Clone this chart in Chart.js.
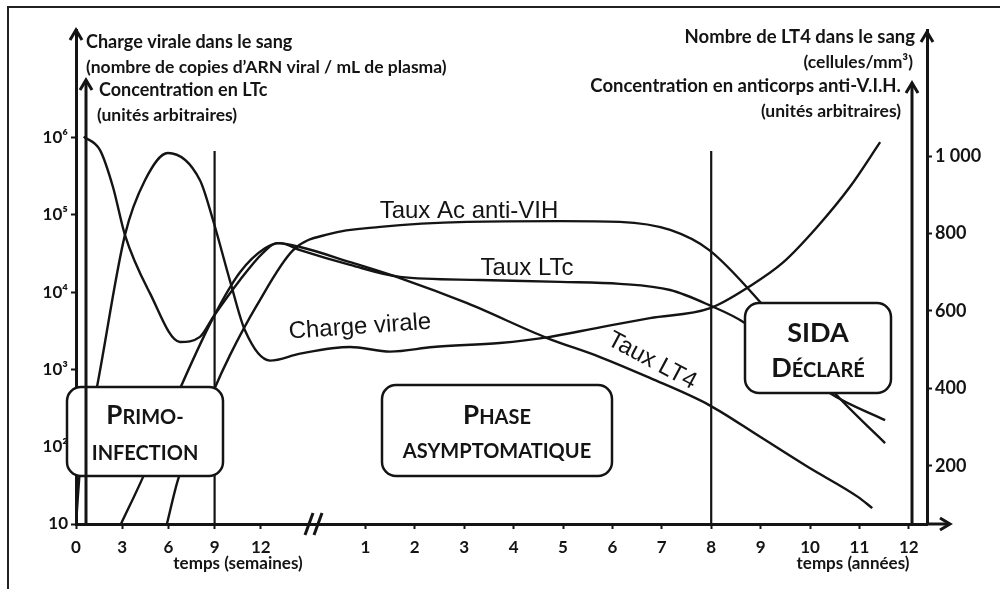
<!DOCTYPE html>
<html lang="fr">
<head>
  <meta charset="UTF-8">
  <title>Évolution de l'infection par le V.I.H.</title>
  <script src="https://cdn.jsdelivr.net/npm/chart.js@4.4.1/dist/chart.umd.min.js"></script>
  <style>
    html, body { margin: 0; padding: 0; background: #fff; }
    #wrap { position: relative; width: 1000px; height: 589px; }
  </style>
</head>
<body>
  <div id="wrap"><canvas id="hiv"></canvas></div>

  <script>
    // Axis ticks
    const weekTicks = [0, 3, 6, 9, 12];
    const yearTicks = [1, 2, 3, 4, 5, 6, 7, 8, 9, 10, 11, 12];
    const xTickLabels = weekTicks.concat(yearTicks).map(String);
    const logTicks = [10, 1e2, 1e3, 1e4, 1e5, 1e6];
    const logTickLabels = ['10', '10²', '10³', '10⁴', '10⁵', '10⁶'];
    const lt4Ticks = [200, 400, 600, 800, 1000];
    const lt4TickLabels = ['200', '400', '600', '800', '1 000'];

    // Series as [time, value]: first part in weeks, second part in years
    const viralWeeks = [[0, 10], [0.26, 50], [1.36, 590], [3.18, 5.5e4], [4.48, 2.8e5], [5.97, 6.3e5],
                        [8.05, 2.8e5], [8.9, 8.5e4], [10.0, 1.4e4], [10.97, 3.2e3], [12.6, 1.3e3], [14.55, 1.6e3]];
    const viralYears = [[0.69, 1.95e3], [1.5, 1.7e3], [2.37, 1.95e3], [3.72, 2.2e3], [4.68, 2.6e3], [5.75, 3.5e3],
                        [6.76, 4.6e3], [7.98, 6.2e3], [8.79, 1.2e4], [9.45, 2.4e4], [10.14, 6.9e4], [10.81, 2.3e5], [11.42, 8.7e5]];

    const lt4Weeks = [[0.5, 1050], [1.56, 1015], [2.4, 920], [3.18, 796], [4.8, 646], [6.75, 520], [8.05, 533],
                      [8.9, 584], [10.65, 680], [12.14, 750], [13.05, 775], [14.55, 765]];
    const lt4Years = [[0.69, 726], [1.7, 685], [3.06, 620], [4.68, 530], [5.75, 481], [6.76, 427], [7.96, 357],
                      [8.99, 275], [9.96, 197], [10.97, 120], [11.26, 91]];

    const ltcWeeks = [[2.92, 50], [4.35, 171], [6.43, 370], [8.9, 582], [10.65, 700], [12.27, 762], [13.25, 775], [14.55, 757]];
    const ltcYears = [[0.69, 719], [1.7, 688], [3.32, 680], [4.94, 675], [6.15, 670], [7.17, 654], [7.96, 615],
                      [8.68, 569], [10.4, 388], [11.52, 318]];

    const acWeeks = [[5.9, 50], [6.62, 164], [8.9, 391], [10.0, 486], [11.75, 615], [14.1, 757]];
    const acYears = [[0.28, 799], [1.3, 817], [3.06, 830], [4.94, 832], [6.15, 830], [7.17, 809], [7.96, 757],
                     [8.99, 623], [10.5, 388], [11.52, 259]];

    const phaseWeek = 9;   // end of primo-infection
    const phaseYear = 8;   // start of AIDS

    // x axis is in years; the weeks section is squeezed in before year 0
    const YEAR_PX = 49.4, WEEK_PX = 15.4, WEEKS_SPAN_PX = 240;
    const X_MIN = -WEEKS_SPAN_PX / YEAR_PX;
    const X_MAX = X_MIN + 851 / YEAR_PX;
    const wk = w => X_MIN + w * WEEK_PX / YEAR_PX;

    const toPoints = (weeks, years) =>
      weeks.map(([w, v]) => ({ x: wk(w), y: v })).concat(years.map(([t, v]) => ({ x: t, y: v })));

    const INK = '#141414';
    const lineStyle = {
      borderColor: INK, borderWidth: 2.4, pointRadius: 0, fill: false,
      cubicInterpolationMode: 'monotone'
    };

    function roundRect(ctx, x, y, w, h, r) {
      ctx.beginPath();
      ctx.moveTo(x + r, y);
      ctx.arcTo(x + w, y, x + w, y + h, r);
      ctx.arcTo(x + w, y + h, x, y + h, r);
      ctx.arcTo(x, y + h, x, y, r);
      ctx.arcTo(x, y, x + w, y, r);
      ctx.closePath();
    }

    // draws text made of [string, size] parts, centered, sharing one baseline
    function capsLine(ctx, parts, cx, baseline) {
      let total = 0;
      parts.forEach(([s, size]) => { ctx.font = `bold ${size}px Lato`; total += ctx.measureText(s).width; });
      let x = cx - total / 2;
      ctx.textAlign = 'left';
      ctx.textBaseline = 'alphabetic';
      parts.forEach(([s, size]) => {
        ctx.font = `bold ${size}px Lato`;
        ctx.fillText(s, x, baseline);
        x += ctx.measureText(s).width;
      });
    }

    function arrowUp(ctx, x, tip) {
      ctx.beginPath();
      ctx.moveTo(x - 6, tip + 10);
      ctx.lineTo(x, tip);
      ctx.lineTo(x + 6, tip + 10);
      ctx.stroke();
    }

    const boxes = [
      { x: 67, y: 387, w: 156, h: 89, lines: [[['P', 26], ['RIMO-', 20]], [['INFECTION', 20]]], base: [424, 460] },
      { x: 382, y: 385, w: 230, h: 91, lines: [[['P', 26], ['HASE', 20]], [['ASYMPTOMATIQUE', 20]]], base: [424, 458] },
      { x: 745, y: 303, w: 146, h: 90, lines: [[['SIDA', 27]], [['D', 27], ['ÉCLARÉ', 20]]], base: [342, 377] }
    ];

    const curveLabels = [
      { text: 'Taux Ac anti-VIH', x: 469, y: 211, rot: 0 },
      { text: 'Taux LTc', x: 527, y: 268, rot: 0 },
      { text: 'Charge virale', x: 360, y: 327, rot: -4 },
      { text: 'Taux LT4', x: 652, y: 361, rot: 28 }
    ];

    const titles = [
      ['Charge virale dans le sang', 86, 42, 18, 'left'],
      ['(nombre de copies d’ARN viral / mL de plasma)', 86, 67, 17.5, 'left'],
      ['Concentration en LTc', 99, 90, 18, 'left'],
      ['(unités arbitraires)', 97, 115, 17.5, 'left'],
      ['Nombre de LT4 dans le sang', 915, 37, 18.5, 'right'],
      ['(cellules/mm³)', 913, 62, 17.5, 'right'],
      ['Concentration en anticorps anti-V.I.H.', 901, 86, 18.5, 'right'],
      ['(unités arbitraires)', 901, 111, 17.5, 'right']
    ];

    const decor = {
      id: 'decor',
      beforeDraw(chart) {
        const ctx = chart.ctx;
        ctx.save();
        ctx.fillStyle = '#fff';
        ctx.fillRect(0, 0, chart.width, chart.height);
        ctx.restore();
      },
      beforeDatasetsDraw(chart) {
        const { ctx, scales } = chart;
        const bottom = chart.chartArea.bottom;
        const top = scales.yT.getPixelForValue(1013);
        ctx.save();
        ctx.strokeStyle = INK;
        ctx.lineWidth = 2.2;
        [wk(phaseWeek), phaseYear].forEach(v => {
          const x = scales.x.getPixelForValue(v);
          ctx.beginPath();
          ctx.moveTo(x, top);
          ctx.lineTo(x, bottom);
          ctx.stroke();
        });
        ctx.restore();
      },
      afterDatasetsDraw(chart) {
        const ctx = chart.ctx;
        ctx.save();
        // phase boxes
        boxes.forEach(b => {
          roundRect(ctx, b.x, b.y, b.w, b.h, 14);
          ctx.fillStyle = '#fff';
          ctx.fill();
          ctx.strokeStyle = INK;
          ctx.lineWidth = 2.5;
          ctx.stroke();
          ctx.fillStyle = INK;
          b.lines.forEach((parts, i) => capsLine(ctx, parts, b.x + b.w / 2, b.base[i]));
        });
        // curve names
        ctx.fillStyle = INK;
        ctx.font = '24px "Liberation Sans", Arial, sans-serif';
        ctx.textAlign = 'center';
        ctx.textBaseline = 'middle';
        curveLabels.forEach(l => {
          ctx.save();
          ctx.translate(l.x, l.y);
          ctx.rotate(l.rot * Math.PI / 180);
          ctx.fillText(l.text, 0, 0);
          ctx.restore();
        });
        ctx.restore();
      },
      afterDraw(chart) {
        const { ctx, chartArea } = chart;
        const L = chartArea.left, R = chartArea.right, B = chartArea.bottom, T = chartArea.top;
        ctx.save();
        ctx.strokeStyle = INK;
        ctx.fillStyle = INK;

        // inner axes
        ctx.lineWidth = 3;
        ctx.beginPath();
        ctx.moveTo(L + 10, B); ctx.lineTo(L + 10, 82);
        ctx.moveTo(R - 15, B); ctx.lineTo(R - 15, 85);
        ctx.stroke();
        // arrow heads
        arrowUp(ctx, L, T);
        arrowUp(ctx, L + 10, 80);
        arrowUp(ctx, R, T + 2);
        arrowUp(ctx, R - 15, 83);
        // x axis extension with arrow
        ctx.beginPath();
        ctx.moveTo(R, B); ctx.lineTo(948, B);
        ctx.stroke();
        ctx.beginPath();
        ctx.moveTo(940, B - 6); ctx.lineTo(950, B); ctx.lineTo(940, B + 6);
        ctx.stroke();

        // axis break
        [309, 318].forEach(x => {
          ctx.beginPath();
          ctx.moveTo(x - 4, B + 11);
          ctx.lineTo(x + 4, B - 11);
          ctx.stroke();
        });

        // axis titles
        ctx.textBaseline = 'middle';
        titles.forEach(([s, x, y, size, a]) => {
          ctx.font = `bold ${size}px Lato`;
          ctx.textAlign = a;
          ctx.fillText(s, x, y);
        });
        ctx.font = 'bold 17px Lato';
        ctx.textAlign = 'center';
        ctx.fillText('temps (semaines)', 238, 564);
        ctx.fillText('temps (années)', 853, 564);

        // frame
        ctx.lineWidth = 2;
        ctx.strokeStyle = '#222';
        ctx.beginPath();
        ctx.moveTo(8, chart.height); ctx.lineTo(8, 7); ctx.lineTo(chart.width, 7);
        ctx.stroke();
        ctx.restore();
      }
    };

    const tickFont = { family: 'Lato, "DejaVu Sans"', weight: 'bold', size: 17 };

    new Chart(document.getElementById('hiv'), {
      type: 'line',
      data: {
        datasets: [
          { label: 'Charge virale', data: toPoints(viralWeeks, viralYears), yAxisID: 'yV', ...lineStyle },
          { label: 'Taux LT4', data: toPoints(lt4Weeks, lt4Years), yAxisID: 'yT', ...lineStyle },
          { label: 'Taux LTc', data: toPoints(ltcWeeks, ltcYears), yAxisID: 'yT', ...lineStyle },
          { label: 'Taux Ac anti-VIH', data: toPoints(acWeeks, acYears), yAxisID: 'yT', ...lineStyle }
        ]
      },
      options: {
        responsive: true,
        maintainAspectRatio: false,
        animation: false,
        layout: { padding: { top: 30, left: 0, right: 0, bottom: 0 } },
        plugins: { legend: { display: false }, tooltip: { enabled: false } },
        scales: {
          x: {
            type: 'linear', min: X_MIN, max: X_MAX,
            afterBuildTicks: s => {
              s.ticks = weekTicks.map(w => ({ value: wk(w) })).concat(yearTicks.map(y => ({ value: y })));
            },
            afterFit: s => { s.height = 65; },
            ticks: { autoSkip: false, maxRotation: 0, padding: 8, color: INK, font: tickFont,
                     callback: (v, i) => xTickLabels[i] },
            grid: { drawOnChartArea: false, tickColor: INK, tickLength: 5, tickWidth: 2 },
            border: { display: true, color: INK, width: 3 }
          },
          yV: {
            type: 'logarithmic', position: 'left', min: 10, max: Math.pow(10, 1 + 494 / 77.3),
            afterBuildTicks: s => { s.ticks = logTicks.map(v => ({ value: v })); },
            afterFit: s => { s.width = 76; },
            ticks: { autoSkip: false, padding: 3, color: INK, font: { ...tickFont, size: 17 },
                     callback: (v, i) => logTickLabels[i] },
            grid: { drawOnChartArea: false, tickColor: INK, tickLength: 5, tickWidth: 2 },
            border: { display: true, color: INK, width: 3 }
          },
          yT: {
            type: 'linear', position: 'right', min: 50, max: 50 + 494 * 950 / 368,
            afterBuildTicks: s => { s.ticks = lt4Ticks.map(v => ({ value: v })); },
            afterFit: s => { s.width = 73; },
            ticks: { autoSkip: false, padding: 3, color: INK, font: { ...tickFont, size: 18 },
                     callback: (v, i) => lt4TickLabels[i] },
            grid: { drawOnChartArea: false, tickColor: INK, tickLength: 5, tickWidth: 2 },
            border: { display: true, color: INK, width: 3 }
          }
        }
      },
      plugins: [decor]
    });
  </script>
</body>
</html>
